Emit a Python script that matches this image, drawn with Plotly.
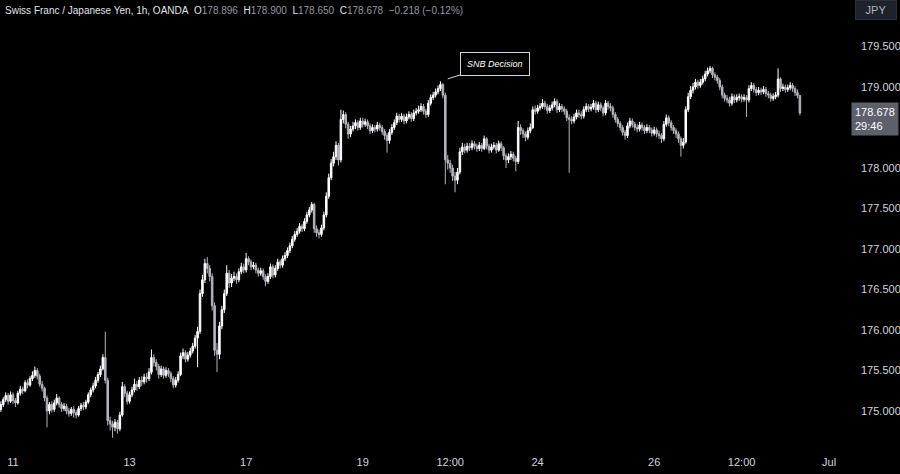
import pandas as pd
import plotly.graph_objects as go

# CHF/JPY 1h, OANDA - hourly bars from Mon 10 Jun 2024 19:00 on
first_bar = "2024-06-10 19:00"

opens = [
    175.02, 175.08, 175.14, 175.19, 175.12, 175.20, 175.13, 175.10, 175.22, 175.27,
    175.25, 175.35, 175.32, 175.40, 175.44, 175.50, 175.43, 175.33, 175.28, 175.16,
    175.00, 175.08, 175.02, 175.10, 175.16, 175.08, 175.03, 175.06, 175.00, 174.97,
    175.02, 174.98, 174.95, 175.03, 175.07, 175.05, 175.11, 175.20, 175.26, 175.31,
    175.38, 175.45, 175.52, 175.66, 175.38, 174.88, 174.84, 174.80, 174.86, 174.78,
    174.95, 175.30, 175.22, 175.12, 175.20, 175.26, 175.33, 175.30, 175.38, 175.36,
    175.42, 175.40, 175.48, 175.66, 175.60, 175.55, 175.45, 175.52, 175.44, 175.50,
    175.46, 175.40, 175.32, 175.38, 175.45, 175.68, 175.72, 175.64, 175.69, 175.74,
    175.80, 175.90, 175.98, 176.45, 176.62, 176.82, 176.76, 176.66, 176.30, 175.75,
    175.70, 176.05, 176.25, 176.45, 176.70, 176.58, 176.64, 176.66, 176.62, 176.72,
    176.78, 176.74, 176.88, 176.84, 176.78, 176.80, 176.74, 176.70, 176.73, 176.66,
    176.60, 176.66, 176.78, 176.68, 176.76, 176.84, 176.80, 176.88, 176.92, 176.98,
    177.04, 177.12, 177.18, 177.22, 177.28, 177.25, 177.34, 177.42, 177.48, 177.55,
    177.25, 177.20, 177.18, 177.26, 177.42, 177.65, 177.88, 178.06, 178.14, 178.28,
    178.10, 178.60, 178.66, 178.54, 178.42, 178.48, 178.52, 178.56, 178.50, 178.58,
    178.54, 178.57, 178.52, 178.46, 178.50, 178.48, 178.53, 178.50, 178.45, 178.40,
    178.34, 178.44, 178.50, 178.56, 178.64, 178.60, 178.64, 178.58, 178.63, 178.66,
    178.61, 178.68, 178.70, 178.72, 178.76, 178.70, 178.66, 178.80, 178.87, 178.90,
    178.94, 178.98, 179.03, 178.90, 178.10, 178.06, 178.00, 177.90, 177.85, 177.95,
    178.20, 178.26, 178.22, 178.27, 178.25, 178.30, 178.27, 178.24, 178.28, 178.24,
    178.36, 178.27, 178.22, 178.26, 178.28, 178.22, 178.30, 178.25, 178.15, 178.10,
    178.14, 178.17, 178.12, 178.08, 178.50, 178.46, 178.42, 178.38, 178.46, 178.50,
    178.72, 178.70, 178.74, 178.76, 178.80, 178.76, 178.71, 178.74, 178.78, 178.82,
    178.72, 178.76, 178.73, 178.70, 178.62, 178.60, 178.58, 178.63, 178.68, 178.66,
    178.64, 178.72, 178.76, 178.73, 178.75, 178.80, 178.72, 178.78, 178.74, 178.68,
    178.80, 178.76, 178.74, 178.66, 178.60, 178.55, 178.50, 178.44, 178.40, 178.52,
    178.58, 178.54, 178.50, 178.48, 178.53, 178.50, 178.46, 178.50, 178.47, 178.43,
    178.47, 178.42, 178.40, 178.36, 178.54, 178.62, 178.56, 178.50, 178.46, 178.42,
    178.36, 178.28, 178.32, 178.72, 178.88, 178.96, 179.00, 179.06, 179.02, 179.06,
    179.10, 179.16, 179.20, 179.23, 179.15, 179.12, 179.08, 179.00, 178.90, 178.86,
    178.84, 178.80, 178.88, 178.84, 178.87, 178.88, 178.85, 178.87, 178.84, 178.98,
    179.02, 178.97, 178.93, 178.96, 178.94, 178.97, 178.92, 178.90, 178.86, 178.88,
    178.90, 179.10, 178.98, 179.00, 178.97, 178.99, 179.02, 178.98, 178.93, 178.896,
]

highs = [
    175.12, 175.17, 175.23, 175.22, 175.24, 175.23, 175.16, 175.25, 175.31, 175.30,
    175.38, 175.39, 175.43, 175.49, 175.55, 175.53, 175.46, 175.37, 175.30, 175.19,
    175.11, 175.12, 175.14, 175.21, 175.18, 175.11, 175.10, 175.09, 175.04, 175.05,
    175.06, 175.01, 175.06, 175.10, 175.11, 175.14, 175.23, 175.29, 175.35, 175.42,
    175.48, 175.56, 175.70, 175.98, 175.41, 174.93, 174.88, 174.90, 174.89, 174.99,
    175.36, 175.33, 175.25, 175.24, 175.30, 175.40, 175.37, 175.42, 175.43, 175.46,
    175.47, 175.53, 175.76, 175.70, 175.64, 175.58, 175.56, 175.55, 175.54, 175.53,
    175.49, 175.43, 175.42, 175.49, 175.72, 175.77, 175.75, 175.73, 175.78, 175.84,
    175.94, 176.04, 176.50, 176.68, 176.88, 176.90, 176.80, 176.70, 176.34, 175.84,
    176.10, 176.30, 176.50, 176.80, 176.74, 176.69, 176.72, 176.70, 176.76, 176.83,
    176.82, 176.95, 176.91, 176.87, 176.84, 176.83, 176.77, 176.77, 176.76, 176.69,
    176.70, 176.82, 176.81, 176.80, 176.88, 176.87, 176.92, 176.96, 177.02, 177.08,
    177.16, 177.22, 177.26, 177.32, 177.31, 177.38, 177.46, 177.52, 177.58, 177.57,
    177.29, 177.24, 177.30, 177.46, 177.70, 177.93, 178.11, 178.20, 178.33, 178.31,
    178.72, 178.71, 178.69, 178.57, 178.52, 178.57, 178.60, 178.59, 178.62, 178.62,
    178.61, 178.60, 178.55, 178.54, 178.53, 178.57, 178.56, 178.53, 178.48, 178.43,
    178.48, 178.54, 178.60, 178.68, 178.67, 178.68, 178.67, 178.67, 178.70, 178.69,
    178.72, 178.74, 178.77, 178.80, 178.79, 178.73, 178.84, 178.91, 178.94, 178.98,
    179.02, 179.07, 179.05, 178.93, 178.16, 178.10, 178.04, 177.95, 178.00, 178.25,
    178.31, 178.30, 178.31, 178.31, 178.34, 178.33, 178.30, 178.32, 178.31, 178.40,
    178.38, 178.30, 178.30, 178.32, 178.31, 178.34, 178.33, 178.27, 178.18, 178.18,
    178.21, 178.20, 178.15, 178.58, 178.54, 178.49, 178.45, 178.50, 178.55, 178.76,
    178.77, 178.78, 178.80, 178.85, 178.83, 178.79, 178.78, 178.82, 178.86, 178.85,
    178.80, 178.79, 178.76, 178.73, 178.66, 178.64, 178.67, 178.72, 178.72, 178.70,
    178.76, 178.80, 178.79, 178.79, 178.84, 178.83, 178.82, 178.81, 178.77, 178.84,
    178.83, 178.80, 178.77, 178.69, 178.63, 178.58, 178.53, 178.47, 178.56, 178.62,
    178.61, 178.57, 178.54, 178.57, 178.56, 178.53, 178.54, 178.53, 178.50, 178.51,
    178.50, 178.46, 178.43, 178.58, 178.66, 178.65, 178.59, 178.53, 178.49, 178.45,
    178.39, 178.37, 178.76, 178.93, 179.01, 179.05, 179.10, 179.09, 179.10, 179.14,
    179.20, 179.24, 179.26, 179.25, 179.18, 179.15, 179.11, 179.03, 178.93, 178.90,
    178.88, 178.92, 178.91, 178.91, 178.92, 178.91, 178.91, 178.90, 179.02, 179.06,
    179.05, 179.00, 179.00, 178.99, 179.01, 179.00, 178.95, 178.93, 178.92, 178.94,
    179.23, 179.12, 179.04, 179.03, 179.03, 179.06, 179.05, 179.01, 178.97, 178.900,
]

lows = [
    174.99, 175.05, 175.11, 175.08, 175.10, 175.09, 175.05, 175.08, 175.19, 175.21,
    175.23, 175.28, 175.30, 175.37, 175.41, 175.39, 175.30, 175.24, 175.12, 174.80,
    174.96, 174.98, 174.99, 175.07, 175.04, 174.99, 175.00, 174.96, 174.93, 174.94,
    174.92, 174.91, 174.93, 175.00, 175.01, 175.02, 175.09, 175.17, 175.23, 175.28,
    175.35, 175.42, 175.50, 175.34, 174.82, 174.76, 174.67, 174.75, 174.72, 174.75,
    174.93, 175.17, 175.08, 175.09, 175.17, 175.23, 175.25, 175.27, 175.31, 175.33,
    175.35, 175.37, 175.45, 175.55, 175.50, 175.40, 175.42, 175.40, 175.41, 175.42,
    175.36, 175.28, 175.29, 175.35, 175.43, 175.64, 175.60, 175.61, 175.66, 175.71,
    175.77, 175.54, 175.95, 176.41, 176.58, 176.70, 176.60, 176.24, 175.68, 175.48,
    175.64, 176.01, 176.21, 176.42, 176.52, 176.53, 176.60, 176.57, 176.59, 176.69,
    176.70, 176.71, 176.80, 176.74, 176.75, 176.70, 176.66, 176.67, 176.62, 176.54,
    176.57, 176.63, 176.64, 176.65, 176.73, 176.76, 176.77, 176.85, 176.89, 176.95,
    177.01, 177.09, 177.15, 177.19, 177.21, 177.22, 177.31, 177.39, 177.45, 177.20,
    177.15, 177.13, 177.15, 177.23, 177.39, 177.62, 177.85, 178.02, 178.10, 178.03,
    178.07, 178.55, 178.49, 178.36, 178.38, 178.45, 178.48, 178.46, 178.47, 178.50,
    178.51, 178.48, 178.42, 178.43, 178.44, 178.45, 178.46, 178.41, 178.35, 178.19,
    178.30, 178.41, 178.47, 178.53, 178.56, 178.57, 178.54, 178.55, 178.60, 178.57,
    178.58, 178.65, 178.67, 178.69, 178.66, 178.62, 178.63, 178.77, 178.84, 178.87,
    178.91, 178.95, 178.86, 177.80, 177.98, 177.94, 177.84, 177.70, 177.80, 177.92,
    178.16, 178.18, 178.19, 178.21, 178.22, 178.23, 178.20, 178.21, 178.20, 178.22,
    178.23, 178.18, 178.19, 178.23, 178.18, 178.20, 178.21, 178.10, 178.00, 178.06,
    178.10, 178.08, 177.96, 178.05, 178.41, 178.37, 178.33, 178.35, 178.43, 178.48,
    178.66, 178.67, 178.71, 178.73, 178.72, 178.67, 178.68, 178.71, 178.75, 178.68,
    178.69, 178.69, 178.66, 178.58, 177.94, 178.54, 178.55, 178.60, 178.62, 178.60,
    178.61, 178.69, 178.69, 178.70, 178.72, 178.68, 178.69, 178.70, 178.64, 178.65,
    178.72, 178.70, 178.62, 178.56, 178.51, 178.46, 178.40, 178.35, 178.37, 178.49,
    178.50, 178.46, 178.44, 178.45, 178.46, 178.42, 178.43, 178.43, 178.39, 178.40,
    178.38, 178.36, 178.31, 178.33, 178.51, 178.52, 178.46, 178.42, 178.37, 178.31,
    178.14, 178.24, 178.30, 178.69, 178.85, 178.92, 178.97, 178.98, 178.99, 179.03,
    179.07, 179.13, 179.17, 179.11, 179.08, 179.04, 178.96, 178.86, 178.82, 178.80,
    178.76, 178.77, 178.80, 178.81, 178.83, 178.81, 178.82, 178.63, 178.81, 178.95,
    178.93, 178.89, 178.90, 178.90, 178.91, 178.88, 178.86, 178.82, 178.83, 178.85,
    178.87, 178.94, 178.95, 178.93, 178.94, 178.96, 178.94, 178.89, 178.86, 178.650,
]

closes = [
    175.08, 175.14, 175.19, 175.12, 175.20, 175.13, 175.10, 175.22, 175.27, 175.25,
    175.35, 175.32, 175.40, 175.44, 175.50, 175.43, 175.33, 175.28, 175.16, 175.00,
    175.08, 175.02, 175.10, 175.16, 175.08, 175.03, 175.06, 175.00, 174.97, 175.02,
    174.98, 174.95, 175.03, 175.07, 175.05, 175.11, 175.20, 175.26, 175.31, 175.38,
    175.45, 175.52, 175.66, 175.38, 174.88, 174.84, 174.80, 174.86, 174.78, 174.95,
    175.30, 175.22, 175.12, 175.20, 175.26, 175.33, 175.30, 175.38, 175.36, 175.42,
    175.40, 175.48, 175.66, 175.60, 175.55, 175.45, 175.52, 175.44, 175.50, 175.46,
    175.40, 175.32, 175.38, 175.45, 175.68, 175.72, 175.64, 175.69, 175.74, 175.80,
    175.90, 175.98, 176.45, 176.62, 176.82, 176.76, 176.66, 176.30, 175.75, 175.70,
    176.05, 176.25, 176.45, 176.70, 176.58, 176.64, 176.66, 176.62, 176.72, 176.78,
    176.74, 176.88, 176.84, 176.78, 176.80, 176.74, 176.70, 176.73, 176.66, 176.60,
    176.66, 176.78, 176.68, 176.76, 176.84, 176.80, 176.88, 176.92, 176.98, 177.04,
    177.12, 177.18, 177.22, 177.28, 177.25, 177.34, 177.42, 177.48, 177.55, 177.25,
    177.20, 177.18, 177.26, 177.42, 177.65, 177.88, 178.06, 178.14, 178.28, 178.10,
    178.60, 178.66, 178.54, 178.42, 178.48, 178.52, 178.56, 178.50, 178.58, 178.54,
    178.57, 178.52, 178.46, 178.50, 178.48, 178.53, 178.50, 178.45, 178.40, 178.34,
    178.44, 178.50, 178.56, 178.64, 178.60, 178.64, 178.58, 178.63, 178.66, 178.61,
    178.68, 178.70, 178.72, 178.76, 178.70, 178.66, 178.80, 178.87, 178.90, 178.94,
    178.98, 179.03, 178.90, 178.10, 178.06, 178.00, 177.90, 177.85, 177.95, 178.20,
    178.26, 178.22, 178.27, 178.25, 178.30, 178.27, 178.24, 178.28, 178.24, 178.36,
    178.27, 178.22, 178.26, 178.28, 178.22, 178.30, 178.25, 178.15, 178.10, 178.14,
    178.17, 178.12, 178.08, 178.50, 178.46, 178.42, 178.38, 178.46, 178.50, 178.72,
    178.70, 178.74, 178.76, 178.80, 178.76, 178.71, 178.74, 178.78, 178.82, 178.72,
    178.76, 178.73, 178.70, 178.62, 178.60, 178.58, 178.63, 178.68, 178.66, 178.64,
    178.72, 178.76, 178.73, 178.75, 178.80, 178.72, 178.78, 178.74, 178.68, 178.80,
    178.76, 178.74, 178.66, 178.60, 178.55, 178.50, 178.44, 178.40, 178.52, 178.58,
    178.54, 178.50, 178.48, 178.53, 178.50, 178.46, 178.50, 178.47, 178.43, 178.47,
    178.42, 178.40, 178.36, 178.54, 178.62, 178.56, 178.50, 178.46, 178.42, 178.36,
    178.28, 178.32, 178.72, 178.88, 178.96, 179.00, 179.06, 179.02, 179.06, 179.10,
    179.16, 179.20, 179.23, 179.15, 179.12, 179.08, 179.00, 178.90, 178.86, 178.84,
    178.80, 178.88, 178.84, 178.87, 178.88, 178.85, 178.87, 178.84, 178.98, 179.02,
    178.97, 178.93, 178.96, 178.94, 178.97, 178.92, 178.90, 178.86, 178.88, 178.90,
    179.10, 178.98, 179.00, 178.97, 178.99, 179.02, 178.98, 178.93, 178.896, 178.678,
]

tick_times = ["2024-06-11 00:00", "2024-06-13 00:00", "2024-06-17 00:00", "2024-06-19 00:00",
              "2024-06-20 12:00", "2024-06-24 00:00", "2024-06-26 00:00", "2024-06-27 12:00",
              "2024-07-01 00:00"]
tick_labels = ["11", "13", "17", "19", "12:00", "24", "26", "12:00", "Jul"]
# 178.500 sits under the last-price label, so it is not shown
price_ticks = [175.0, 175.5, 176.0, 176.5, 177.0, 177.5, 178.0, 179.0, 179.5]

# forex session: Fri 21:00 -> Sun 21:00 has no bars
hours = pd.date_range(first_bar, "2024-07-01 06:00", freq="h")
wd, hr = hours.dayofweek, hours.hour
closed = ((wd == 4) & (hr >= 21)) | (wd == 5) | ((wd == 6) & (hr < 21))
session = hours[~closed]
slot = {t: n for n, t in enumerate(session)}
bar_x = list(range(len(closes)))
tick_x = [slot[pd.Timestamp(t)] for t in tick_times]

fig = go.Figure(go.Candlestick(
    x=bar_x, open=opens, high=highs, low=lows, close=closes,
    increasing=dict(line=dict(color='#ffffff', width=1), fillcolor='#ffffff'),
    decreasing=dict(line=dict(color='#b2b5be', width=1), fillcolor='#b2b5be'),
    whiskerwidth=0, hoverinfo='skip', showlegend=False,
))

grey = '#9598a1'
chg = closes[-1] - closes[-2]
pct = chg / closes[-2] * 100
header = ('Swiss Franc / Japanese Yen, 1h, OANDA&nbsp;&nbsp;'
          f'O<span style="color:{grey}">{opens[-1]:.3f}</span>&nbsp;&nbsp;'
          f'H<span style="color:{grey}">{highs[-1]:.3f}</span>&nbsp;&nbsp;'
          f'L<span style="color:{grey}">{lows[-1]:.3f}</span>&nbsp;&nbsp;'
          f'C<span style="color:{grey}">{closes[-1]:.3f}</span>&nbsp;&nbsp;'
          f'<span style="color:{grey}">{chg:+.3f} ({pct:+.2f}%)</span>').replace('-', '\u2212')

fig.add_annotation(text=header, xref='paper', yref='paper', x=0, y=1, xshift=3, yshift=-3,
                   xanchor='left', yanchor='top', showarrow=False,
                   font=dict(size=10, color='#e0e3eb'))

fig.add_annotation(text='<i>SNB Decision</i>', x=184, y=179.10, ax=47, ay=-15,
                   showarrow=True, arrowhead=0, arrowwidth=1, arrowcolor='#d1d4dc',
                   bgcolor='#000000', bordercolor='#d1d4dc', borderwidth=1, borderpad=6,
                   font=dict(size=9, color='#ffffff'))

fig.add_annotation(text='JPY', xref='paper', yref='paper', x=1, y=1, xshift=7, xanchor='left',
                   yanchor='top', showarrow=False, width=38, height=16, bgcolor='#1e222d',
                   bordercolor='#2a2e39', borderwidth=1, font=dict(size=11, color='#b2b5be'))

fig.add_annotation(text=f'{closes[-1]:.3f}<br>29:46', xref='paper', yref='y', x=1, y=closes[-1],
                   xshift=3, yshift=-6, xanchor='left', yanchor='middle', align='left',
                   showarrow=False, bgcolor='#5d606b', borderpad=3,
                   font=dict(size=11, color='#ffffff'))

fig.update_layout(
    width=900, height=474,
    margin=dict(l=0, r=52, t=0, b=28),
    paper_bgcolor='#000000', plot_bgcolor='#000000',
    font=dict(family='Liberation Sans, Arial, sans-serif', color='#d1d4dc'),
    showlegend=False, hovermode=False, boxgap=0.1,
)
fig.update_xaxes(range=[-0.35, 348.8], tickmode='array', tickvals=tick_x, ticktext=tick_labels,
                 showgrid=False, zeroline=False, showline=False, ticks='', ticklabelstandoff=8,
                 tickfont=dict(size=11, color='#d1d4dc'),
                 rangeslider_visible=False)
fig.update_yaxes(range=[174.568, 180.074], side='right', tickmode='array', tickvals=price_ticks,
                 tickformat='.3f', showgrid=False, zeroline=False, showline=False, ticks='',
                 ticklabelstandoff=12, tickfont=dict(size=11, color='#d1d4dc'))

fig.write_html("out.html", config={'displayModeBar': False},
               post_script="document.body.style.margin='0';document.body.style.background='#000';")
